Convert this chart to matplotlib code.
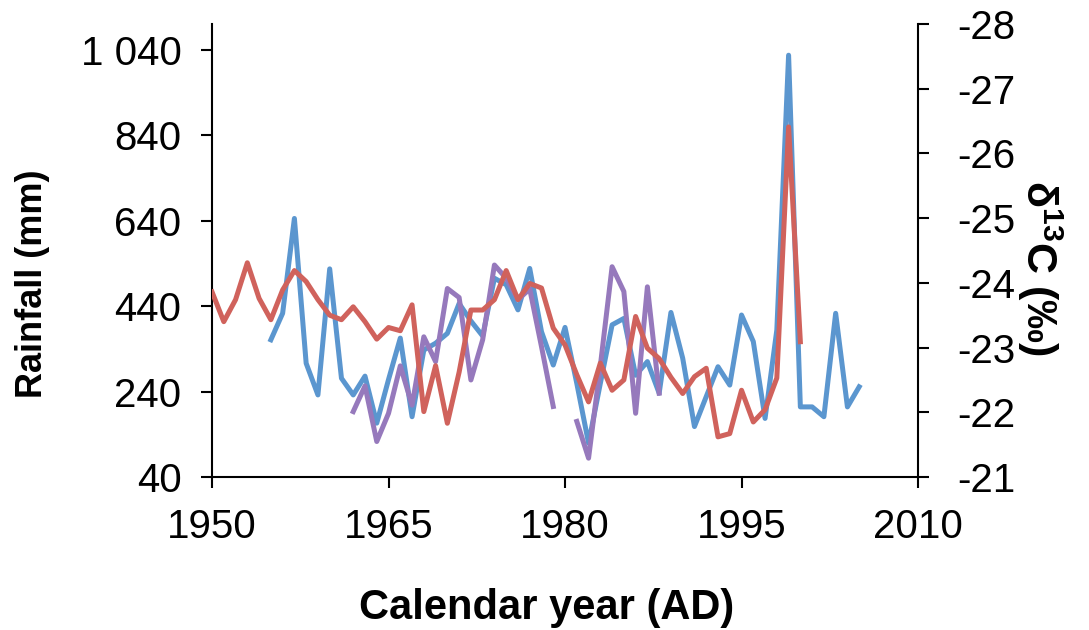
import numpy as np
import matplotlib
matplotlib.use("Agg")
import matplotlib.pyplot as plt
from matplotlib.ticker import FuncFormatter

plt.rcParams['font.family'] = ['Liberation Sans', 'DejaVu Sans']
plt.rcParams['mathtext.fontset'] = 'custom'
plt.rcParams['mathtext.rm'] = 'Liberation Sans'
plt.rcParams['mathtext.bf'] = 'Liberation Sans:bold'
plt.rcParams['axes.unicode_minus'] = False

# --- data ---
rain_years = list(range(1955, 2006))
rain_mm = [361, 423, 645, 306, 232, 527, 271, 232, 276, 166,
           268, 365, 181, 337, 353, 376, 446, 405, 370, 505,
           490, 431, 528, 380, 302, 390, 259, 119, 259, 396,
           411, 278, 310, 236, 425, 318, 158, 228, 298, 255,
           419, 357, 177, 384, 1027, 204, 204, 181, 423, 204,
           251]

rain2_years = list(range(1962, 1989))
rain2_mm = [193, 253, 123, 189, 300, 208, 368, 310, 481, 460,
            267, 361, 536, 505, 455, 480, 345, 205, np.nan, 170,
            84, 300, 532, 474, 189, 485, 236]

d13c_years = list(range(1950, 2001))
d13c = [-23.86, -23.40, -23.74, -24.31, -23.76, -23.43, -23.89, -24.19, -24.02, -23.74,
        -23.50, -23.43, -23.63, -23.40, -23.13, -23.31, -23.26, -23.66, -22.01, -22.72,
        -21.83, -22.62, -23.58, -23.58, -23.74, -24.19, -23.74, -23.99, -23.92, -23.30,
        -23.04, -22.58, -22.16, -22.76, -22.34, -22.50, -23.48, -22.99, -22.83, -22.54,
        -22.29, -22.55, -22.68, -21.62, -21.67, -22.34, -21.85, -22.04, -22.53, -26.41,
        -23.09]

blue = '#5b96cf'
purple = '#9679bc'
red = '#d0625c'

fig = plt.figure(figsize=(10.89, 6.30), dpi=100)
ax = fig.add_axes([0.1947, 0.2429, 0.843 - 0.1947, 0.9619 - 0.2429])
ax2 = ax.twinx()

lw = 3.6
ax.plot(rain_years, rain_mm, color=blue, lw=lw)
ax.plot(rain2_years, rain2_mm, color=purple, lw=lw)
ax2.plot(d13c_years, d13c, color=red, lw=lw)

ax.set_xlim(1950, 2010)
ax.set_ylim(40, 1100)
ax.set_xticks([1950, 1965, 1980, 1995, 2010])
ax.set_yticks([40, 240, 440, 640, 840, 1040])
ax.yaxis.set_major_formatter(FuncFormatter(lambda v, p: f"{int(v):,}".replace(",", " ")))
ax2.set_ylim(-21, -28)
ax2.set_yticks(range(-28, -20))

for a in (ax, ax2):
    a.spines['top'].set_visible(False)
    for s in a.spines.values():
        s.set_linewidth(1.5)
    a.tick_params(direction='out', length=8, width=1.5, labelsize=29, pad=14)

ax.spines['right'].set_visible(False)
ax2.spines['left'].set_visible(False)
ax2.spines['bottom'].set_visible(False)
ax.tick_params(axis='y', pad=14)
ax2.tick_params(axis='y', pad=20)

ax.set_xlabel('Calendar year (AD)', fontsize=30, fontweight='bold')
ax.xaxis.set_label_coords(0.4745, -0.245)
ax.set_ylabel('Rainfall (mm)', fontsize=26, fontweight='bold')
ax.yaxis.set_label_coords(-0.229, 0.426)
ax2.set_ylabel(r'$\mathbf{\delta^{13}C}$ (‰)', fontsize=31, fontweight='bold',
               rotation=270)
ax2.yaxis.set_label_coords(1.208, 0.461)

fig.savefig('out.png', dpi=100)
